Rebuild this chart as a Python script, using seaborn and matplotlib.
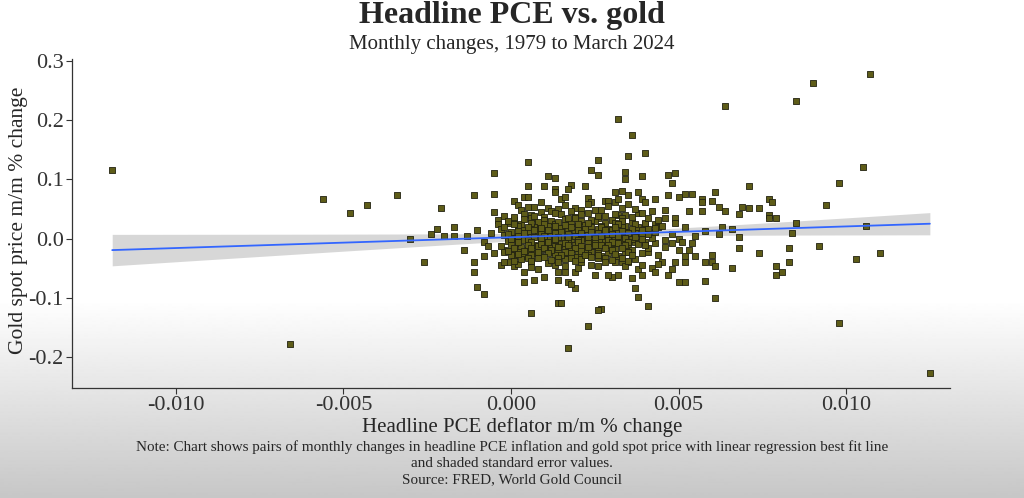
import matplotlib
matplotlib.use("Agg")
import matplotlib.pyplot as plt
import numpy as np
import pandas as pd
import seaborn as sns

# (PCE m/m change, gold m/m change) pairs
left_tail = [(-0.0119, 0.115), (-0.0066, -0.177), (-0.0056, 0.067), (-0.0048, 0.044),
             (-0.0043, 0.057), (-0.0034, 0.074), (-0.0030, 0.000), (-0.0026, -0.039),
             (-0.0024, 0.007), (-0.0022, 0.017), (-0.0021, 0.052), (-0.0020, 0.005),
             (-0.0017, 0.019), (-0.0017, 0.005), (-0.0014, -0.019), (-0.0013, 0.005),
             (-0.0011, 0.074), (-0.0011, -0.039), (-0.0011, -0.057), (-0.0010, -0.081),
             (-0.0010, 0.015), (-0.0008, -0.093), (-0.0008, -0.005), (-0.0007, -0.012),
             (-0.0005, 0.111), (-0.0005, 0.076), (-0.0005, -0.025), (-0.0004, 0.032),
             (-0.0004, 0.024), (-0.0003, -0.044), (-0.0002, -0.019), (-0.0001, -0.040),
             (-0.0001, 0.003)]

upper_mid = [(0.0005, 0.130), (0.0026, 0.132), (0.0024, 0.115), (0.0026, 0.108),
             (0.0011, 0.105), (0.0013, 0.103), (0.0005, 0.088), (0.0010, 0.088),
             (0.0018, 0.091), (0.0013, 0.084), (0.0017, 0.083), (0.0022, 0.088),
             (0.0013, 0.078), (0.0001, 0.064), (0.0004, 0.071), (0.0005, 0.071),
             (0.0009, 0.062), (0.0015, 0.066), (0.0016, 0.071), (0.0023, 0.069),
             (0.0024, 0.062), (0.0028, 0.064), (0.0002, 0.057), (0.0005, 0.054),
             (0.0007, 0.054), (0.0011, 0.052), (0.0016, 0.057), (0.0019, 0.052),
             (0.0021, 0.049), (0.0025, 0.049), (0.0027, 0.049), (0.0006, 0.040)]

upper_right = [(0.0032, 0.202), (0.0036, 0.175), (0.0035, 0.140), (0.0040, 0.145),
               (0.0034, 0.113), (0.0034, 0.101), (0.0039, 0.106), (0.0047, 0.108),
               (0.0049, 0.110), (0.0048, 0.094), (0.0031, 0.079), (0.0033, 0.081),
               (0.0035, 0.073), (0.0038, 0.078), (0.0029, 0.064), (0.0031, 0.061),
               (0.0032, 0.066), (0.0035, 0.059), (0.0039, 0.066), (0.0040, 0.061),
               (0.0043, 0.067), (0.0047, 0.073), (0.0050, 0.071), (0.0052, 0.076),
               (0.0054, 0.076), (0.0057, 0.066), (0.0057, 0.061), (0.0053, 0.047),
               (0.0057, 0.046), (0.0032, 0.040), (0.0034, 0.040), (0.0038, 0.044),
               (0.0046, 0.035), (0.0049, 0.035), (0.0049, 0.027), (0.0040, 0.025),
               (0.0043, 0.025), (0.0044, 0.019)]

right_tail = [(0.0064, 0.223), (0.0085, 0.233), (0.0090, 0.263), (0.0107, 0.278),
              (0.0105, 0.121), (0.0098, 0.093), (0.0094, 0.057), (0.0085, 0.027),
              (0.0106, 0.022), (0.0092, -0.012), (0.0110, -0.025), (0.0103, -0.035),
              (0.0061, -0.101), (0.0098, -0.143), (0.0125, -0.226), (0.0071, 0.089),
              (0.0061, 0.079), (0.0060, 0.064), (0.0062, 0.054), (0.0064, 0.047),
              (0.0069, 0.054), (0.0071, 0.051), (0.0074, 0.051), (0.0068, 0.042),
              (0.0077, 0.067), (0.0078, 0.062), (0.0077, 0.040), (0.0077, 0.034),
              (0.0079, 0.034), (0.0084, 0.010), (0.0058, 0.013), (0.0062, 0.008),
              (0.0063, 0.020), (0.0066, 0.017), (0.0068, 0.002), (0.0068, -0.015),
              (0.0074, -0.025), (0.0083, -0.015), (0.0060, -0.027), (0.0058, -0.039),
              (0.0060, -0.040), (0.0061, -0.047), (0.0066, -0.049), (0.0083, -0.039),
              (0.0079, -0.046), (0.0079, -0.061), (0.0081, -0.057), (0.0058, -0.072)]

lower_right = [(0.0054, -0.007), (0.0050, -0.019), (0.0052, -0.030), (0.0055, -0.030),
               (0.0052, -0.040), (0.0049, -0.039), (0.0045, -0.040), (0.0047, -0.062),
               (0.0050, -0.074), (0.0052, -0.074), (0.0036, -0.066), (0.0037, -0.084),
               (0.0038, -0.098), (0.0041, -0.113), (0.0027, -0.118), (0.0050, 0.000),
               (0.0051, -0.005), (0.0043, -0.007), (0.0046, -0.014), (0.0048, -0.007),
               (0.0044, -0.027), (0.0041, -0.022), (0.0037, -0.005), (0.0042, -0.049),
               (0.0039, -0.061), (0.0043, -0.056), (0.0038, -0.052), (0.0035, -0.040),
               (0.0031, -0.040), (0.0033, -0.040), (0.0032, -0.061), (0.0030, -0.064),
               (0.0025, -0.061), (0.0029, -0.061)]

lower_mid = [(-0.0002, -0.022), (0.0001, -0.030), (-0.0002, -0.040), (0.0001, -0.047),
             (0.0004, -0.056), (0.0006, -0.040), (0.0008, -0.052), (0.0007, -0.069),
             (0.0004, -0.074), (0.0010, -0.064), (0.0014, -0.057), (0.0014, -0.069),
             (0.0016, -0.056), (0.0017, -0.074), (0.0019, -0.056), (0.0019, -0.084),
             (0.0014, -0.108), (0.0006, -0.125), (0.0026, -0.120), (0.0015, -0.108),
             (0.0023, -0.148), (0.0017, -0.185), (0.0021, -0.039), (0.0024, -0.044),
             (0.0018, -0.076), (0.0013, -0.045)]

ring = [(0.0003, 0.048), (0.0009, 0.045), (0.0014, 0.050), (0.0018, 0.047),
        (0.0023, 0.058), (0.0029, 0.055), (0.0033, 0.052), (0.0037, 0.050),
        (0.0042, 0.046), (0.0046, 0.049), (0.0002, -0.043), (0.0006, -0.048),
        (0.0011, -0.041), (0.0016, -0.046), (0.0020, -0.050), (0.0026, -0.047),
        (0.0034, -0.046), (0.0039, -0.044), (0.0044, -0.042), (0.0048, -0.052),
        (0.0053, -0.020), (-0.0006, 0.010), (-0.0008, -0.030), (-0.0005, 0.045),
        (0.0052, 0.020), (0.0055, 0.005)]

core = [(-0.0002, 0.038), (0.0004, 0.042), (0.0010, 0.036), (0.0015, 0.041), (0.0019, 0.037),
        (0.0023, 0.044), (0.0028, 0.039), (0.0033, 0.035), (0.0039, 0.043), (0.0012, 0.046),
        (0.0001, 0.031), (0.0006, 0.034), (0.0012, 0.029), (0.0016, 0.033), (0.0021, 0.030),
        (0.0026, 0.035), (0.0030, 0.032), (0.0036, 0.028), (0.0044, 0.031), (0.0008, 0.027),
        (-0.0001, 0.026), (0.0003, 0.024), (0.0008, 0.028), (0.0013, 0.025), (0.0018, 0.027),
        (0.0022, 0.023), (0.0025, 0.029), (0.0031, 0.026), (0.0034, 0.022), (0.0040, 0.027),
        (0.0002, 0.021), (0.0007, 0.019), (0.0011, 0.022), (0.0015, 0.018), (0.0020, 0.021),
        (0.0024, 0.020), (0.0029, 0.017), (0.0033, 0.023), (0.0038, 0.019), (0.0045, 0.021),
        (-0.0003, 0.016), (0.0004, 0.015), (0.0009, 0.017), (0.0013, 0.014), (0.0017, 0.016),
        (0.0021, 0.013), (0.0026, 0.017), (0.0030, 0.015), (0.0035, 0.012), (0.0041, 0.016),
        (0.0000, 0.011), (0.0005, 0.010), (0.0010, 0.012), (0.0014, 0.009), (0.0019, 0.011),
        (0.0023, 0.008), (0.0027, 0.012), (0.0032, 0.010), (0.0037, 0.009), (0.0043, 0.011),
        (0.0048, 0.008), (-0.0002, 0.006), (0.0003, 0.005), (0.0008, 0.007), (0.0012, 0.004),
        (0.0016, 0.006), (0.0020, 0.005), (0.0025, 0.007), (0.0029, 0.003), (0.0034, 0.006),
        (0.0039, 0.004), (0.0001, 0.001), (0.0006, 0.002), (0.0011, -0.001), (0.0015, 0.002),
        (0.0018, 0.000), (0.0022, 0.001), (0.0027, -0.001), (0.0031, 0.002), (0.0036, 0.000),
        (0.0042, 0.001), (-0.0001, -0.004), (0.0004, -0.003), (0.0009, -0.005), (0.0013, -0.002),
        (0.0017, -0.004), (0.0021, -0.003), (0.0024, -0.006), (0.0028, -0.004), (0.0033, -0.002),
        (0.0040, -0.005), (0.0046, -0.003), (0.0002, -0.008), (0.0007, -0.010), (0.0011, -0.007),
        (0.0015, -0.009), (0.0019, -0.011), (0.0023, -0.008), (0.0027, -0.010), (0.0032, -0.007),
        (0.0038, -0.009), (-0.0003, -0.013), (0.0003, -0.014), (0.0008, -0.012), (0.0012, -0.015),
        (0.0016, -0.013), (0.0021, -0.016), (0.0025, -0.012), (0.0030, -0.014), (0.0035, -0.013),
        (0.0041, -0.015), (0.0001, -0.018), (0.0005, -0.019), (0.0010, -0.017), (0.0014, -0.020),
        (0.0018, -0.018), (0.0022, -0.019), (0.0026, -0.021), (0.0031, -0.017), (0.0036, -0.019),
        (0.0002, -0.023), (0.0007, -0.025), (0.0012, -0.022), (0.0017, -0.024), (0.0020, -0.026),
        (0.0024, -0.023), (0.0029, -0.025), (0.0034, -0.022), (0.0039, -0.024), (0.0000, -0.028),
        (0.0004, -0.030), (0.0009, -0.029), (0.0013, -0.027), (0.0019, -0.031), (0.0023, -0.028),
        (0.0027, -0.030), (0.0032, -0.029), (0.0003, -0.034), (0.0008, -0.033), (0.0012, -0.036),
        (0.0016, -0.034), (0.0021, -0.035), (0.0026, -0.033), (0.0030, -0.036), (0.0037, -0.034)]

core_fill = [(0.0001, 0.036), (0.0007, 0.039), (0.0013, 0.043), (0.0017, 0.035), (0.0021, 0.041),
             (0.0026, 0.038), (0.0031, 0.042), (0.0036, 0.037), (-0.0001, 0.029), (0.0004, 0.033),
             (0.0010, 0.031), (0.0014, 0.028), (0.0019, 0.034), (0.0024, 0.031), (0.0028, 0.027),
             (0.0033, 0.030), (0.0041, 0.034), (0.0001, 0.024), (0.0006, 0.026), (0.0010, 0.024),
             (0.0016, 0.023), (0.0020, 0.025), (0.0023, 0.026), (0.0027, 0.022), (0.0032, 0.024),
             (0.0037, 0.025), (-0.0002, 0.019), (0.0005, 0.020), (0.0009, 0.018), (0.0013, 0.021),
             (0.0018, 0.019), (0.0022, 0.017), (0.0027, 0.020), (0.0031, 0.019), (0.0036, 0.016),
             (0.0043, 0.018), (0.0002, 0.013), (0.0007, 0.014), (0.0011, 0.015), (0.0015, 0.012),
             (0.0020, 0.015), (0.0024, 0.011), (0.0028, 0.014), (0.0033, 0.013), (0.0039, 0.014),
             (-0.0001, 0.008), (0.0004, 0.009), (0.0009, 0.008), (0.0013, 0.010), (0.0017, 0.008),
             (0.0021, 0.010), (0.0026, 0.009), (0.0030, 0.008), (0.0035, 0.009), (0.0041, 0.007),
             (0.0002, 0.004), (0.0007, 0.003), (0.0010, 0.005), (0.0014, 0.003), (0.0019, 0.004),
             (0.0023, 0.003), (0.0027, 0.005), (0.0032, 0.004), (0.0037, 0.003), (0.0000, -0.001),
             (0.0005, -0.002), (0.0009, 0.001), (0.0013, -0.001), (0.0017, 0.002), (0.0020, -0.002),
             (0.0025, 0.001), (0.0029, -0.002), (0.0034, 0.001), (0.0039, -0.001), (0.0002, -0.006),
             (0.0006, -0.005), (0.0011, -0.006), (0.0016, -0.007), (0.0020, -0.005), (0.0025, -0.007),
             (0.0030, -0.006), (0.0035, -0.005), (0.0000, -0.010), (0.0005, -0.011), (0.0009, -0.009),
             (0.0013, -0.012), (0.0017, -0.010), (0.0021, -0.012), (0.0025, -0.010), (0.0029, -0.011),
             (0.0034, -0.010), (0.0040, -0.011), (0.0001, -0.016), (0.0006, -0.015), (0.0010, -0.016),
             (0.0014, -0.014), (0.0019, -0.016), (0.0023, -0.014), (0.0028, -0.016), (0.0033, -0.015),
             (-0.0001, -0.021), (0.0004, -0.021), (0.0008, -0.022), (0.0012, -0.020), (0.0016, -0.022),
             (0.0021, -0.021), (0.0026, -0.024), (0.0030, -0.020), (0.0035, -0.022), (0.0002, -0.026),
             (0.0006, -0.027), (0.0011, -0.025), (0.0015, -0.028), (0.0018, -0.025), (0.0022, -0.027),
             (0.0026, -0.027), (0.0031, -0.026), (0.0036, -0.028), (0.0005, -0.032), (0.0010, -0.031),
             (0.0014, -0.032), (0.0018, -0.033), (0.0024, -0.031), (0.0028, -0.032), (0.0033, -0.033),
             (0.0001, -0.037), (0.0006, -0.038), (0.0014, -0.039), (0.0019, -0.038), (0.0028, -0.039),
             (0.0035, -0.037)]

x_ticks = [-0.010, -0.005, 0.000, 0.005, 0.010]
y_ticks = [-0.2, -0.1, 0.0, 0.1, 0.2, 0.3]

pairs = (left_tail + upper_mid + upper_right + right_tail + lower_right
         + lower_mid + ring + core + core_fill)
df = pd.DataFrame(pairs, columns=["pce", "gold"])

sns.set_theme(style="ticks")
plt.rcParams["font.family"] = ["Liberation Serif", "DejaVu Serif"]

fig = plt.figure(figsize=(10.24, 4.98), dpi=100)
fig.patch.set_facecolor("white")

# faded grey band at the bottom of the source screenshot
bg = fig.add_axes([0, 0, 1, 1], zorder=-10)
grad = np.ones((498, 1))
grad[300:, 0] = np.linspace(1.0, 0.78, 198)
bg.imshow(grad, aspect="auto", cmap="gray", vmin=0, vmax=1, extent=[0, 1, 0, 1])
bg.axis("off")

ax = fig.add_axes([0.0703, 0.2209, 0.8574, 0.6606])
ax.set_facecolor("none")

# standard error band like ggplot's geom_smooth(method = "lm")
x = df["pce"].to_numpy()
y = df["gold"].to_numpy()
slope, intercept = np.polyfit(x, y, 1)
resid = y - (slope * x + intercept)
s = np.sqrt(np.sum(resid ** 2) / (len(x) - 2))
grid = np.linspace(x.min(), x.max(), 100)
se = s * np.sqrt(1 / len(x) + (grid - x.mean()) ** 2 / np.sum((x - x.mean()) ** 2))
fit = slope * grid + intercept
ax.fill_between(grid, fit - 1.96 * se, fit + 1.96 * se, color="#bdbdbd", alpha=0.6,
                linewidth=0, zorder=1)

sns.regplot(data=df, x="pce", y="gold", ax=ax, ci=None,
            marker="s",
            scatter_kws={"s": 14, "color": "#5e5c18", "edgecolor": "#222210",
                         "linewidths": 0.6, "alpha": 1, "zorder": 2},
            line_kws={"color": "#3366FF", "linewidth": 1.3, "zorder": 3})

ax.set_xlim(-0.0131, 0.0131)
ax.set_ylim(-0.252, 0.303)
ax.set_xticks(x_ticks)
ax.set_xticklabels([f"{v:.3f}" for v in x_ticks])
ax.set_yticks(y_ticks)
ax.set_yticklabels([f"{v:.1f}" for v in y_ticks])
ax.tick_params(labelsize=16, colors="#333333", length=4, width=0.8, pad=2)
for side in ["top", "right"]:
    ax.spines[side].set_visible(False)
for side in ["left", "bottom"]:
    ax.spines[side].set_color("#333333")
    ax.spines[side].set_linewidth(0.9)

ax.set_xlabel("")
ax.set_ylabel("Gold spot price m/m % change", fontsize=15.5)
ax.yaxis.set_label_coords(-0.050, 0.51)

fig.text(0.5, 0.968, "Headline PCE vs. gold", ha="center", va="center",
         fontsize=23, fontweight="bold")
fig.text(0.5, 0.911, "Monthly changes, 1979 to March 2024", ha="center", va="center",
         fontsize=15)
fig.text(0.51, 0.143, "Headline PCE deflator m/m % change", ha="center", va="center",
         fontsize=15)
fig.text(0.5, 0.102, "Note: Chart shows pairs of monthly changes in headline PCE inflation and gold spot price with linear regression best fit line",
         ha="center", va="center", fontsize=10.9)
fig.text(0.5, 0.069, "and shaded standard error values.", ha="center", va="center", fontsize=10.9)
fig.text(0.5, 0.036, "Source: FRED, World Gold Council", ha="center", va="center", fontsize=10.9)

fig.savefig("out.png", dpi=100)
